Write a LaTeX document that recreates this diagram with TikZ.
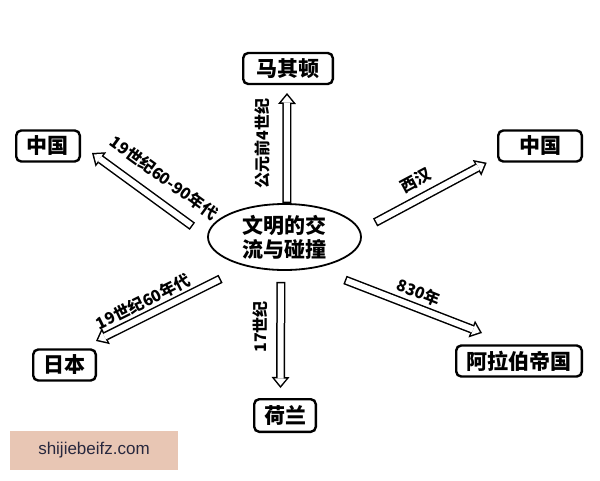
\documentclass[tikz,border=0pt]{standalone}
\usepackage{fontspec}
\setmainfont{Liberation Sans}
\newfontfamily\cjk{Noto Sans CJK SC}
\newfontfamily\wmfont{Liberation Sans}
\usetikzlibrary{arrows.meta,shapes.geometric}
\definecolor{wmfill}{RGB}{232,198,180}
\definecolor{wmtext}{RGB}{40,40,62}
\begin{document}
\begin{tikzpicture}[x=1pt,y=-1pt,
  box/.style={draw, line width=2.4pt, rounded corners=5pt, inner sep=0pt,
    minimum height=31pt, font=\cjk\bfseries\fontsize{21}{24}\selectfont},
  hub/.style={ellipse, draw, line width=1.8pt, minimum width=153pt, minimum height=66pt,
    inner sep=0pt, align=center, font=\cjk\bfseries\fontsize{21}{24}\selectfont},
  lbl/.style={font=\cjk\bfseries\fontsize{16}{16}\selectfont, inner sep=0pt, anchor=center},
  harrow/.style={draw, black, line width=9pt,
    -{Triangle[width=18pt,length=11pt,line width=0pt]}, shorten <=#1,
    postaction={draw, white, line width=6pt,
      -{Triangle[width=11.7pt,length=7.1pt,line width=0pt]},
      shorten >=2.4pt, shorten <={#1+1.5pt}}},
  wm/.style={fill=wmfill, inner sep=0pt, minimum width=168pt, minimum height=39pt,
    text=wmtext, font=\wmfont\fontsize{17}{17}\selectfont}
]
\fill[white] (0,0) rectangle (600,480);
\useasboundingbox (0,0) rectangle (600,480);

% hub
\node[hub] (c) at (284.5,237) {文明的交\\流与碰撞};

% destination boxes
\node[box, minimum width=89.6pt] (mk) at (288,68.5) {马其顿};
\node[box, minimum width=63.6pt] (cnL) at (48,146) {中国};
\node[box, minimum width=83.6pt] (cnR) at (540,146) {中国};
\node[box, minimum width=62.6pt] (jp) at (64.5,365) {日本};
\node[box, minimum width=125.6pt] (ar) at (519,361) {阿拉伯帝国};
\node[box, minimum width=61.6pt, minimum height=32.6pt] (nl) at (285,415.5) {荷兰};

% arrow tips
\coordinate (t1) at (287,93);
\coordinate (t2) at (92,153);
\coordinate (t3) at (486.7,162.7);
\coordinate (t4) at (96,341);
\coordinate (t5) at (482,333);
\coordinate (t6) at (280.5,388);

% hollow arrows with labels
\draw[harrow=0pt] (c.86.6) -- (t1)
  node[lbl, pos=0.5, xshift=-24.3pt, yshift=4.5pt, rotate=90] (l1) {公元前4世纪};
\draw[harrow=18.2pt] (c.180.4) -- (t2)
  node[lbl, pos=0.5, xshift=14.5pt, yshift=17.3pt, rotate=-36] (l2) {19世纪60-90年代};
\draw[harrow=16.7pt] (c.5.4) -- (t3)
  node[lbl, pos=0.5, xshift=-7.5pt, yshift=16.3pt, rotate=28] (l3) {西汉};
\draw[harrow=28pt] (c.217.6) -- (t4)
  node[lbl, pos=0.5, xshift=-27.5pt, yshift=1.8pt, rotate=26.4] (l4) {19世纪60年代};
\draw[harrow=32.5pt] (c.314) -- (t5)
  node[lbl, pos=0.5, xshift=20.1pt, yshift=8.2pt, rotate=-22] (l5) {830年};
\draw[harrow=11pt] (c.264) -- (t6)
  node[lbl, pos=0.5, xshift=-21pt, yshift=2.5pt, rotate=90] (l6) {17世纪};

% watermark
\node[wm] (wmk) at (94,450.5) {shijiebeifz.com};
\end{tikzpicture}
\end{document}
